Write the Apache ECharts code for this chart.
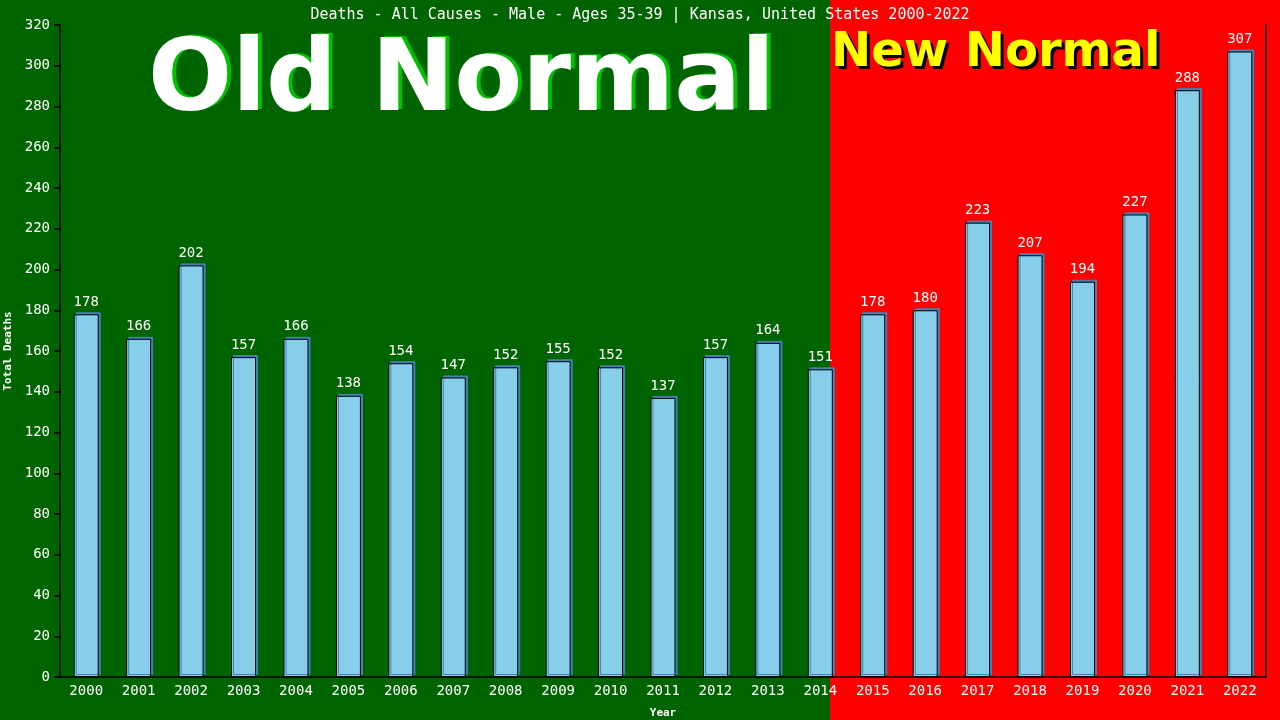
<!DOCTYPE html>
<html>
<head>
<meta charset="utf-8">
<script src="https://cdn.jsdelivr.net/npm/echarts@6/dist/echarts.min.js"></script>
<style>html,body{margin:0;padding:0;background:#006400;}#c{width:1280px;height:720px;}</style>
</head>
<body>
<div id="c"></div>
<script>
const years = ['2000','2001','2002','2003','2004','2005','2006','2007','2008','2009','2010','2011','2012','2013','2014','2015','2016','2017','2018','2019','2020','2021','2022'];
const deaths = [178,166,202,157,166,138,154,147,152,155,152,137,157,164,151,178,180,223,207,194,227,288,307];
const titleText = 'Deaths - All Causes - Male - Ages 35-39 | Kansas, United States 2000-2022';

const mono = 'DejaVu Sans Mono';
const oldFont = 'bold 99px "DejaVu Sans"';
const newFont = 'bold 48px "DejaVu Sans"';
const chart = echarts.init(document.getElementById('c'));
chart.setOption({
  backgroundColor: '#006400',
  animation: false,
  title: {
    text: titleText, left: 'center', top: 3,
    textStyle: { color: '#fff', fontFamily: mono, fontSize: 15, fontWeight: 'normal' }
  },
  graphic: [
    { type: 'rect', z: -10, shape: { x: 830, y: 0, width: 450, height: 720 }, style: { fill: '#ff0000' } },
    { type: 'text', z: 1, left: 152, top: 34, style: { text: 'Old Normal', fill: '#00c000', font: oldFont } },
    { type: 'text', z: 2, left: 148, top: 35, style: { text: 'Old Normal', fill: '#ffffff', font: oldFont } },
    { type: 'text', z: 1, left: 834, top: 33, style: { text: 'New Normal', fill: '#000000', font: newFont } },
    { type: 'text', z: 2, left: 831, top: 30, style: { text: 'New Normal', fill: '#ffff00', font: newFont } }
  ],
  grid: { left: 60, right: 14, top: 25, bottom: 43, outerBoundsMode: 'none', containLabel: false },
  xAxis: {
    type: 'category', data: years,
    name: 'Year', nameLocation: 'middle', nameGap: 31,
    nameTextStyle: { color: '#fff', fontFamily: mono, fontSize: 11, fontWeight: 'bold' },
    axisLine: { lineStyle: { color: '#000', width: 1.5 } },
    axisTick: { show: false },
    axisLabel: { color: '#fff', fontFamily: mono, fontSize: 14, margin: 7 }
  },
  yAxis: [{
    type: 'value', min: 0, max: 320, interval: 20,
    name: 'Total Deaths', nameLocation: 'middle', nameGap: 46,
    nameTextStyle: { color: '#fff', fontFamily: mono, fontSize: 11, fontWeight: 'bold' },
    axisLine: { show: true, lineStyle: { color: '#000', width: 1.5 } },
    axisTick: { show: true, length: 6, lineStyle: { color: '#000', width: 1.5 } },
    axisLabel: { color: '#fff', fontFamily: mono, fontSize: 14, margin: 10 },
    splitLine: { show: false }
  }, {
    type: 'value', min: 0, max: 320, interval: 20, position: 'right',
    axisLine: { show: true, lineStyle: { color: '#000', width: 1.5 } },
    axisTick: { show: false }, axisLabel: { show: false }, splitLine: { show: false }
  }],
  series: [{
    type: 'bar', data: deaths, barWidth: 25,
    itemStyle: { color: '#87ceeb', borderColor: '#000', borderWidth: 1,
      shadowColor: '#4682b4', shadowOffsetX: 2, shadowOffsetY: -2, shadowBlur: 0 },
    label: { show: true, position: 'top', distance: 5, color: '#fff', fontFamily: mono, fontSize: 14 }
  }]
});
</script>
</body>
</html>
